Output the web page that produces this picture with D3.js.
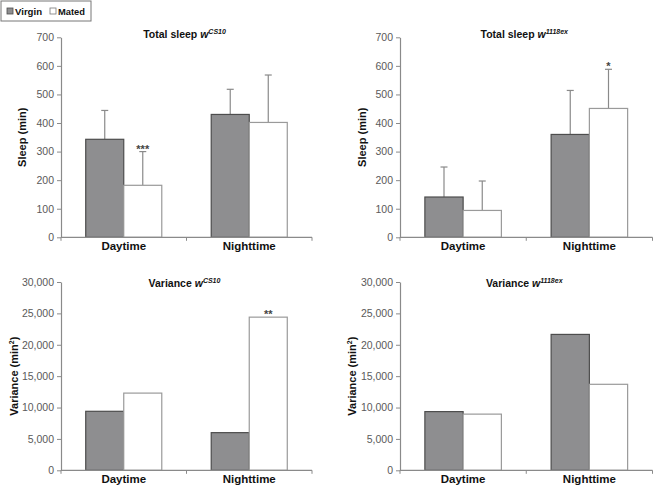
<!DOCTYPE html>
<html>
<head>
<meta charset="utf-8">
<script src="https://cdn.jsdelivr.net/npm/d3@7"></script>
<style>
  body { margin: 0; background: #fff; }
  svg { font-family: "Liberation Sans", Arial, sans-serif; }
  .tick text { font-family: "Liberation Sans Narrow", "Liberation Sans", Arial, sans-serif; fill: #5a5a5a; }
</style>
</head>
<body>
<svg id="chart" width="653" height="487"></svg>
<script>
// ---- data ----
const categories = ["Daytime", "Nighttime"];
const groups = ["Virgin", "Mated"];

const sleepCS10_virgin = [343, 430];
const sleepCS10_mated = [182, 402];
const sleepCS10_virginErr = [101, 88];
const sleepCS10_matedErr = [118, 166];

const sleep1118_virgin = [141, 360];
const sleep1118_mated = [94, 451];
const sleep1118_virginErr = [105, 154];
const sleep1118_matedErr = [103, 137];

const varCS10_virgin = [9400, 6000];
const varCS10_mated = [12300, 24400];

const var1118_virgin = [9350, 21650];
const var1118_mated = [8950, 13700];

const sleepTicks = [0, 100, 200, 300, 400, 500, 600, 700];
const varTicks = [0, 5000, 10000, 15000, 20000, 25000, 30000];

const grey = "#8e8e90";
const axisGrey = "#8a8a8a";

const svg = d3.select("#chart");

// builds one small bar panel
const drawPanel = (opt) => {
  const g = svg.append("g");

  const x = d3.scaleBand().domain(categories).range([opt.x0, opt.x1]).padding(0);
  const barW = x.bandwidth() * 0.303;
  const xs = d3.scaleBand().domain(groups).range([0, barW * 2]);
  const y = d3.scaleLinear().domain([0, opt.max]).range([opt.y0, opt.y1]);

  // rows: one per bar
  const rows = [];
  categories.forEach((c, i) => {
    rows.push({ cat: c, grp: "Virgin", v: opt.virgin[i], e: opt.virginErr ? opt.virginErr[i] : null, sig: opt.sig && opt.sig.grp === "Virgin" && opt.sig.cat === c ? opt.sig.label : null });
    rows.push({ cat: c, grp: "Mated", v: opt.mated[i], e: opt.matedErr ? opt.matedErr[i] : null, sig: opt.sig && opt.sig.grp === "Mated" && opt.sig.cat === c ? opt.sig.label : null });
  });
  const bx = d => x(d.cat) + x.bandwidth() / 2 - barW + xs(d.grp);

  // error bars (upper half only)
  g.selectAll(".err")
    .data(rows.filter(d => d.e !== null))
    .join("g")
      .attr("class", "err")
      .each(function(d) {
        const cx = bx(d) + barW / 2;
        const s = d3.select(this);
        s.append("line")
          .attr("x1", cx).attr("x2", cx)
          .attr("y1", y(d.v)).attr("y2", y(d.v + d.e))
          .attr("stroke", "#8a8a8a").attr("stroke-width", 1.2);
        s.append("line")
          .attr("x1", cx - 3.5).attr("x2", cx + 3.5)
          .attr("y1", y(d.v + d.e)).attr("y2", y(d.v + d.e))
          .attr("stroke", "#8a8a8a").attr("stroke-width", 1.2);
      });

  // bars
  g.selectAll(".bar")
    .data(rows)
    .join("rect")
      .attr("class", "bar")
      .attr("x", bx)
      .attr("y", d => y(d.v))
      .attr("width", barW)
      .attr("height", d => opt.y0 - y(d.v))
      .attr("fill", d => d.grp === "Virgin" ? grey : "#fff")
      .attr("stroke", d => d.grp === "Virgin" ? "#4d4d4d" : "#9a9a9a")
      .attr("stroke-width", 1.2);

  // significance stars
  g.selectAll(".sig")
    .data(rows.filter(d => d.sig))
    .join("text")
      .attr("class", "sig")
      .attr("x", d => bx(d) + barW / 2)
      .attr("y", d => y(d.v + (d.e || 0)) + 1)
      .attr("text-anchor", "middle")
      .attr("font-size", 11)
      .attr("font-weight", "bold")
      .attr("fill", "#444")
      .text(d => d.sig);

  // y axis
  const yAxis = g.append("g")
    .attr("transform", `translate(${opt.x0},0)`)
    .call(d3.axisLeft(y).tickValues(opt.ticks).tickSize(4).tickSizeOuter(0).tickPadding(3)
      .tickFormat(d3.format(",")));
  yAxis.select(".domain").attr("stroke", axisGrey).attr("stroke-width", 1.2);
  yAxis.selectAll(".tick line").attr("stroke", axisGrey);
  yAxis.selectAll(".tick text").attr("font-size", 10.5);

  // x axis: baseline, boundary ticks, category labels
  g.append("line")
    .attr("x1", opt.x0).attr("x2", opt.x1)
    .attr("y1", opt.y0).attr("y2", opt.y0)
    .attr("stroke", axisGrey).attr("stroke-width", 1.2);
  const bounds = [x(categories[0]), x(categories[1]), x(categories[1]) + x.bandwidth()];
  g.selectAll(".xtick")
    .data(bounds)
    .join("line")
      .attr("class", "xtick")
      .attr("x1", d => d).attr("x2", d => d)
      .attr("y1", opt.y0).attr("y2", opt.y0 + 3.5)
      .attr("stroke", axisGrey);
  g.selectAll(".xlab")
    .data(categories)
    .join("text")
      .attr("class", "xlab")
      .attr("x", d => x(d) + x.bandwidth() / 2)
      .attr("y", opt.y0 + 13)
      .attr("text-anchor", "middle")
      .attr("font-size", 11.5)
      .attr("font-weight", "bold")
      .attr("fill", "#111")
      .text(d => d);

  // title
  const t = g.append("text")
    .attr("x", (opt.x0 + opt.x1) / 2 - 2)
    .attr("y", opt.titleY)
    .attr("text-anchor", "middle")
    .attr("font-size", 10.5)
    .attr("font-weight", "bold")
    .attr("fill", "#111");
  t.append("tspan").text(opt.title + " ");
  t.append("tspan").attr("font-style", "italic").text("w");
  t.append("tspan").attr("font-style", "italic").attr("font-size", 7).attr("dy", -4).text(opt.sup);

  // y axis title
  const yt = g.append("text")
    .attr("transform", `translate(${opt.x0 - opt.labelOff},${(opt.y0 + opt.y1) / 2}) rotate(-90)`)
    .attr("text-anchor", "middle")
    .attr("font-size", 11)
    .attr("font-weight", "bold")
    .attr("fill", "#111");
  if (opt.variance) {
    yt.append("tspan").text("Variance (min");
    yt.append("tspan").attr("font-size", 7).attr("dy", -4).text("2");
    yt.append("tspan").attr("dy", 4).text(")");
  } else {
    yt.text("Sleep (min)");
  }
};

drawPanel({ x0: 61, x1: 312, y0: 237.3, y1: 37.3, max: 700, ticks: sleepTicks,
  virgin: sleepCS10_virgin, mated: sleepCS10_mated,
  virginErr: sleepCS10_virginErr, matedErr: sleepCS10_matedErr,
  sig: { cat: "Daytime", grp: "Mated", label: "***" },
  title: "Total sleep", sup: "CS10", titleY: 38, labelOff: 35 });

drawPanel({ x0: 400, x1: 652.5, y0: 237.3, y1: 37.3, max: 700, ticks: sleepTicks,
  virgin: sleep1118_virgin, mated: sleep1118_mated,
  virginErr: sleep1118_virginErr, matedErr: sleep1118_matedErr,
  sig: { cat: "Nighttime", grp: "Mated", label: "*" },
  title: "Total sleep", sup: "1118ex", titleY: 38, labelOff: 34 });

drawPanel({ x0: 61, x1: 312, y0: 470.3, y1: 282, max: 30000, ticks: varTicks,
  virgin: varCS10_virgin, mated: varCS10_mated,
  sig: { cat: "Nighttime", grp: "Mated", label: "**" },
  title: "Variance", sup: "CS10", titleY: 287, labelOff: 43, variance: true });

drawPanel({ x0: 400, x1: 652.5, y0: 470.3, y1: 282, max: 30000, ticks: varTicks,
  virgin: var1118_virgin, mated: var1118_mated,
  title: "Variance", sup: "1118ex", titleY: 287, labelOff: 44, variance: true });

// legend
const legend = svg.append("g");
legend.append("rect")
  .attr("x", 1).attr("y", 1).attr("width", 90).attr("height", 20)
  .attr("fill", "#fff").attr("stroke", "#777").attr("stroke-width", 1);
const legItems = legend.selectAll(".leg")
  .data(groups)
  .join("g")
    .attr("class", "leg")
    .attr("transform", (d, i) => `translate(${7 + i * 43},0)`);
legItems.append("rect")
  .attr("x", 0).attr("y", 8).attr("width", 6).attr("height", 6)
  .attr("fill", d => d === "Virgin" ? grey : "#fff")
  .attr("stroke", d => d === "Virgin" ? "#4d4d4d" : "#777")
  .attr("stroke-width", 0.8);
legItems.append("text")
  .attr("x", 8).attr("y", 15)
  .attr("font-size", 9.5)
  .attr("font-weight", "bold")
  .attr("fill", "#111")
  .attr("textLength", 27)
  .attr("lengthAdjust", "spacingAndGlyphs")
  .text(d => d);
</script>
</body>
</html>
